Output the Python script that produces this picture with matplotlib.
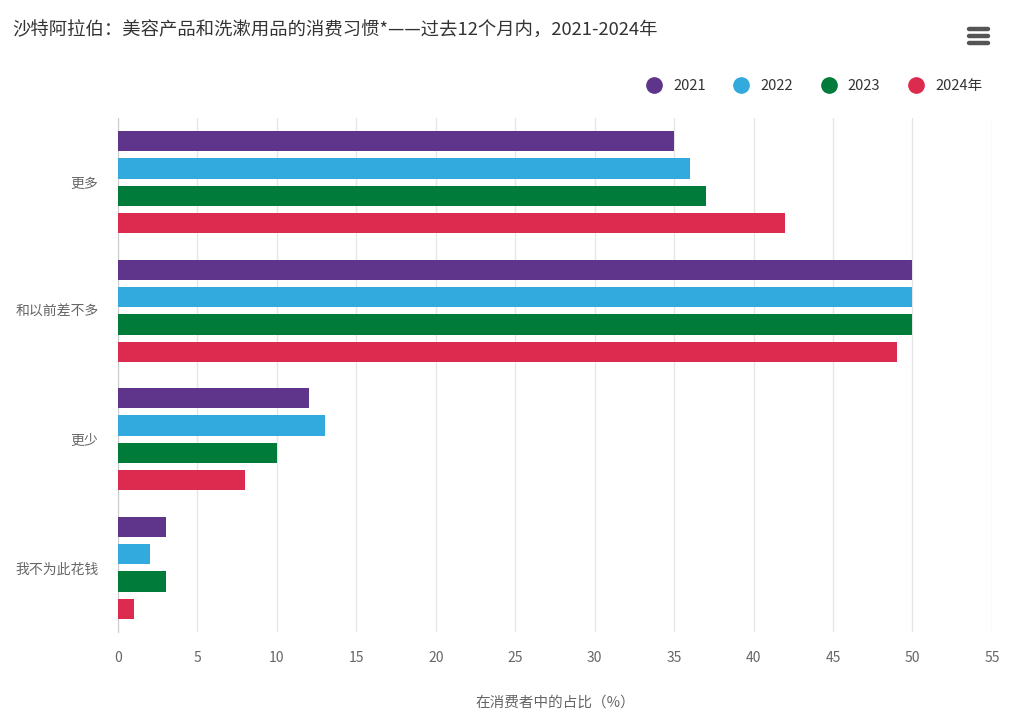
import numpy as np
import matplotlib.pyplot as plt
from matplotlib.lines import Line2D

plt.rcParams['font.family'] = ['Noto Sans CJK SC', 'DejaVu Sans']

# data
categories = ['更多', '和以前差不多', '更少', '我不为此花钱']
series_names = ['2021', '2022', '2023', '2024年']
v2021 = [35, 50, 12, 3]
v2022 = [36, 50, 13, 2]
v2023 = [37, 50, 10, 3]
v2024 = [42, 49, 8, 1]
colors = ['#5E358A', '#33AADD', '#007B3A', '#DD2B4F']

fig = plt.figure(figsize=(10.24, 7.19), dpi=100)
ax = fig.add_axes([0.1152, 0.121, 0.8535, 0.715])

y = np.arange(len(categories))
step = 0.2125
height = 0.158
for i, (vals, name, c) in enumerate(zip([v2021, v2022, v2023, v2024], series_names, colors)):
    ax.barh(y + (i - 1.5) * step, vals, height=height, color=c, label=name, zorder=3)

ax.set_ylim(3.5, -0.5)
ax.set_xlim(0, 55)
ax.set_xticks(np.arange(0, 56, 5))
ax.set_yticks(y)
ax.set_yticklabels(categories)
ax.tick_params(axis='both', length=0, colors='#666666', labelsize=10)
ax.tick_params(axis='x', pad=14)
ax.tick_params(axis='y', pad=14)
ax.grid(axis='x', color='#e6e6e6', linewidth=1, zorder=0)
for s in ['top', 'right', 'bottom']:
    ax.spines[s].set_visible(False)
ax.spines['left'].set_color('#cccccc')

ax.set_xlabel('在消费者中的占比（%）', color='#666666', fontsize=10.5, labelpad=22)

fig.text(0.012, 0.958, '沙特阿拉伯：美容产品和洗漱用品的消费习惯*——过去12个月内，2021-2024年',
         fontsize=13.2, color='#333333', va='center', ha='left')

handles = [Line2D([0], [0], marker='o', color='none', markerfacecolor=c, markeredgecolor=c,
                  markersize=11) for c in colors]
fig.legend(handles, series_names, loc='center right', bbox_to_anchor=(0.972, 0.88),
           ncol=4, frameon=False, fontsize=10.5, handletextpad=0.3, columnspacing=1.45,
           labelcolor='#333333')

# menu icon
for yy in [0.940, 0.950, 0.960]:
    fig.add_artist(Line2D([0.946, 0.965], [yy, yy], color='#555555', linewidth=3.2,
                          solid_capstyle='round'))

fig.savefig('out.png', dpi=100)
